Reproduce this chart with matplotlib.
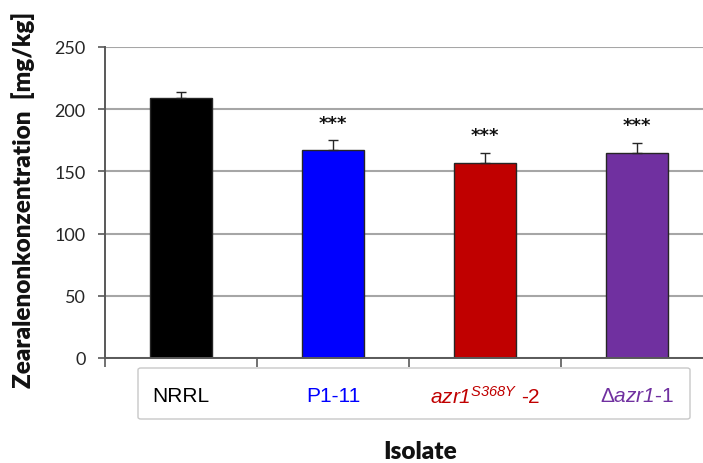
import matplotlib
matplotlib.use("Agg")
import matplotlib.pyplot as plt
from matplotlib.patches import FancyBboxPatch
from matplotlib.transforms import blended_transform_factory

plt.rcParams['mathtext.fontset'] = 'custom'
plt.rcParams['mathtext.rm'] = 'Liberation Sans'
plt.rcParams['mathtext.it'] = 'Liberation Sans:italic'
plt.rcParams['mathtext.bf'] = 'Liberation Sans:bold'
# italic face that also slants digits (used for gene names)
plt.rcParams['mathtext.cal'] = 'Liberation Sans:italic'

# Data
isolates = ["NRRL", "P1-11", r"$\mathcal{azr1}^{\mathcal{S368Y}}$ -2", r"Δ$\mathcal{azr1}$-1"]
zea_means = [209, 167, 157, 165]
zea_errors = [5, 8, 8, 8]
significance = ["", "***", "***", "***"]
y_ticks = [0, 50, 100, 150, 200, 250]

bar_colors = ["#000000", "#0000ff", "#c00000", "#7030a0"]
label_colors = ["#000000", "#0000ff", "#c00000", "#7030a0"]

W, H = 703, 464
fig = plt.figure(figsize=(W / 100, H / 100), dpi=100)
ax = fig.add_axes([105 / W, (H - 359) / H, 608 / W, 311 / H])

x = list(range(len(isolates)))
ax.set_axisbelow(True)
ax.yaxis.grid(True, color="#a6a6a6", linewidth=1.5)
ax.bar(x, zea_means, width=0.41, color=bar_colors, edgecolor="#262626",
       linewidth=1.0, zorder=2)
ax.errorbar(x, zea_means, yerr=[[0] * len(x), zea_errors], fmt="none",
            ecolor="#262626", elinewidth=1.0, capsize=3.5, capthick=1.0, zorder=3)

for xi, m, e, s in zip(x, zea_means, zea_errors, significance):
    if s:
        ax.annotate(s, (xi, m + e), xytext=(0, 6), textcoords="offset points",
                    ha="center", va="bottom", fontsize=13, fontweight="bold",
                    family="DejaVu Sans", color="#111111")

ax.set_xlim(-0.5, 3.5)
ax.set_ylim(0, 250)
ax.set_yticks(y_ticks)
ax.set_xticks([-0.5, 0.5, 1.5, 2.5])
ax.set_xticklabels([])
ax.tick_params(axis="x", direction="out", length=6.5, width=1.2, color="#595959")
ax.tick_params(axis="y", direction="out", length=5, width=1.2, color="#595959",
               labelsize=13, labelcolor="#262626", pad=9)
for lab in ax.get_yticklabels():
    lab.set_family("Lato")
for side in ("top", "right"):
    ax.spines[side].set_visible(False)
for side in ("left", "bottom"):
    ax.spines[side].set_color("#595959")
    ax.spines[side].set_linewidth(1.4)

# Category label box beneath the axis
box = FancyBboxPatch((138 / W, (H - 420) / H), (690 - 138) / W, 51 / H,
                     boxstyle="round,pad=0,rounding_size=0.004",
                     transform=fig.transFigure, facecolor="white",
                     edgecolor="#c8c8c8", linewidth=1.0)
fig.patches.append(box)

trans = blended_transform_factory(ax.transData, fig.transFigure)
for xi, name, c in zip(x, isolates, label_colors):
    fig.text(xi, 1 - 397 / H, name, transform=trans, ha="center", va="center",
             fontsize=15, color=c, family="Liberation Sans")

fig.text(23 / W, 1 - 200 / H, "Zearalenonkonzentration  [mg/kg]", rotation=90,
         ha="center", va="center", fontsize=17.5, fontweight="heavy", family="Lato",
         color="#111111")
fig.text(420 / W, 1 - 452 / H, "Isolate", ha="center", va="center",
         fontsize=17.5, fontweight="heavy", family="Lato", color="#111111")

fig.savefig("out.png", dpi=100)
